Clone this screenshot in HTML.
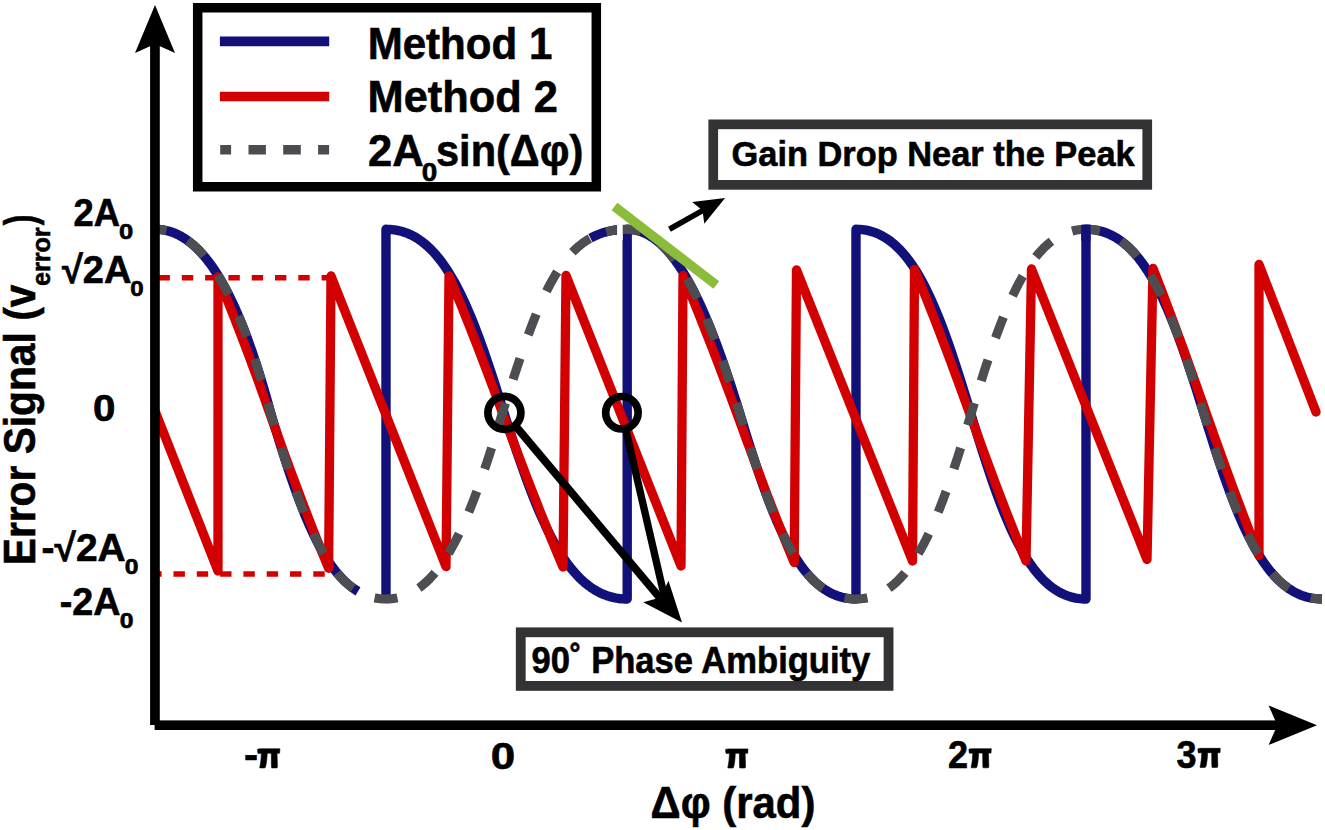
<!DOCTYPE html>
<html><head><meta charset="utf-8"><style>html,body{margin:0;padding:0;background:#fff;overflow:hidden}svg{display:block}</style></head>
<body><svg width="1325" height="830" viewBox="0 0 1325 830">
<rect width="1325" height="830" fill="#fff"/>
<g fill="none" stroke-linejoin="round">
<path d="M155.00,229.30L157.03,229.34L159.06,229.46L161.09,229.66L163.12,229.95L165.15,230.31L167.18,230.77L169.21,231.31L171.24,231.94L173.27,232.67L175.30,233.48L177.33,234.39L179.36,235.40L181.39,236.50L183.42,237.71L185.45,239.01L187.48,240.42L189.51,241.94L191.54,243.56L193.57,245.29L195.60,247.13L197.63,249.09L199.66,251.16L201.69,253.34L203.72,255.65L205.75,258.08L207.78,260.63L209.81,263.31L211.84,266.12L213.87,269.05L215.90,272.12L217.93,275.33L219.96,278.67L221.99,282.15L224.02,285.78L226.05,289.54L228.08,293.46L230.11,297.52L232.14,301.73L234.17,306.10L236.20,310.62L238.23,315.30L240.26,320.14L242.29,325.14L244.32,330.30L246.35,335.63L248.38,341.13L250.41,346.79L252.44,352.63L254.47,358.64L256.50,364.82L258.53,371.18L260.56,377.72L262.59,384.43L264.62,391.32L266.65,398.39L268.68,405.64L270.71,413.07L272.74,419.91L274.77,426.59L276.80,433.22L278.83,439.79L280.86,446.29L282.89,452.71L284.92,459.04L286.95,465.27L288.98,471.40L291.01,477.41L293.04,483.29L295.07,489.04L297.10,494.65L299.13,500.12L301.16,505.44L303.19,510.60L305.22,515.61L307.25,520.45L309.28,525.13L311.31,529.65L313.34,534.00L315.37,538.19L317.40,542.21L319.43,546.06L321.46,549.76L323.49,553.29L325.52,556.66L327.55,559.88L329.58,562.94L331.61,565.85L333.64,568.61L335.67,571.22L337.70,573.70L339.73,576.03L341.76,578.23L343.79,580.30L345.82,582.24L347.85,584.05L349.88,585.75L351.91,587.32L353.94,588.78L355.97,590.13L358.00,591.37M386.00,595.00L386.00,229.30L386.00,229.30L388.03,229.33L390.05,229.43L392.08,229.60L394.11,229.84L396.14,230.16L398.16,230.55L400.19,231.02L402.22,231.57L404.24,232.20L406.27,232.91L408.30,233.71L410.32,234.61L412.35,235.59L414.38,236.67L416.40,237.85L418.43,239.13L420.46,240.52L422.48,242.01L424.51,243.61L426.54,245.33L428.57,247.16L430.59,249.11L432.62,251.18L434.65,253.38L436.67,255.70L438.70,258.16L440.73,260.76L442.75,263.49L444.78,266.36L446.81,269.38L448.83,272.54L450.86,275.85L452.89,279.31L454.92,282.92L456.94,286.68L458.97,290.61L461.00,294.68L463.02,298.91L465.05,303.30L467.08,307.84L469.10,312.54L471.13,317.39L473.16,322.38L475.18,327.52L477.21,332.81L479.24,338.23L481.26,343.78L483.29,349.45L485.32,355.25L487.35,361.16L489.37,367.17L491.40,373.28L493.43,379.47L495.45,385.75L497.48,392.09L499.51,398.49L501.53,404.95L503.56,411.45L505.59,417.83L507.61,424.09L509.64,430.31L511.67,436.48L513.69,442.60L515.72,448.65L517.75,454.62L519.78,460.52L521.80,466.33L523.83,472.04L525.86,477.65L527.88,483.15L529.91,488.53L531.94,493.80L533.96,498.94L535.99,503.94L538.02,508.82L540.04,513.56L542.07,518.15L544.10,522.61L546.12,526.92L548.15,531.09L550.18,535.11L552.21,538.99L554.23,542.72L556.26,546.32L558.29,549.76L560.31,553.07L562.34,556.24L564.37,559.27L566.39,562.16L568.42,564.92L570.45,567.55L572.47,570.06L574.50,572.43L576.53,574.69L578.55,576.82L580.58,578.84L582.61,580.74L584.64,582.53L586.66,584.21L588.69,585.79L590.72,587.26L592.74,588.64L594.77,589.91L596.80,591.09L598.82,592.18L600.85,593.18L602.88,594.09L604.90,594.91L606.93,595.66L608.96,596.32L610.98,596.90L613.01,597.41L615.04,597.84L617.07,598.20L619.09,598.49L621.12,598.72L623.15,598.88L625.17,598.97L627.20,599.00L627.20,229.30L627.20,229.30L629.23,229.35L631.25,229.50L633.28,229.75L635.30,230.11L637.32,230.57L639.35,231.14L641.37,231.81L643.40,232.60L645.42,233.49L647.45,234.50L649.47,235.63L651.50,236.87L653.52,238.22L655.55,239.70L657.57,241.29L659.60,243.01L661.62,244.84L663.65,246.81L665.67,248.89L667.70,251.11L669.72,253.45L671.75,255.91L673.77,258.51L675.80,261.24L677.82,264.10L679.85,267.09L681.87,270.21L683.89,273.46L685.92,276.85L687.94,280.37L689.97,284.03L691.99,287.82L694.02,291.74L696.04,295.79L698.07,299.98L700.09,304.30L702.12,308.75L704.14,313.33L706.17,318.04L708.19,322.87L710.22,327.84L712.24,332.93L714.27,338.14L716.29,343.48L718.32,348.93L720.34,354.50L722.37,360.19L724.39,365.99L726.41,371.90L728.44,377.91L730.46,384.03L732.49,390.25L734.51,396.57L736.54,402.98L738.56,409.48L740.59,416.08L742.61,422.71L744.64,429.30L746.66,435.83L748.69,442.30L750.71,448.70L752.74,455.02L754.76,461.25L756.79,467.37L758.81,473.39L760.84,479.29L762.86,485.07L764.89,490.72L766.91,496.23L768.93,501.59L770.96,506.81L772.98,511.87L775.01,516.79L777.03,521.54L779.06,526.13L781.08,530.56L783.11,534.83L785.13,538.94L787.16,542.89L789.18,546.67L791.21,550.30L793.23,553.77L795.26,557.08L797.28,560.24L799.31,563.25L801.33,566.11L803.36,568.83L805.38,571.41L807.41,573.84L809.43,576.15L811.46,578.31L813.48,580.36L815.50,582.27L817.53,584.06L819.55,585.74L821.58,587.30L823.60,588.74L825.63,590.08L827.65,591.31L829.68,592.44L831.70,593.47L833.73,594.40L835.75,595.24L837.78,595.98L839.80,596.64L841.83,597.21L843.85,597.70L845.88,598.11L847.90,598.43L849.93,598.68L851.95,598.86L853.98,598.97L856.00,599.00L856.00,229.30L856.00,229.30L858.04,229.34L860.07,229.44L862.11,229.62L864.14,229.88L866.18,230.22L868.21,230.64L870.25,231.14L872.28,231.73L874.32,232.41L876.35,233.17L878.39,234.04L880.43,235.00L882.46,236.06L884.50,237.22L886.53,238.49L888.57,239.87L890.60,241.36L892.64,242.97L894.67,244.70L896.71,246.55L898.74,248.53L900.78,250.64L902.81,252.88L904.85,255.26L906.89,257.78L908.92,260.44L910.96,263.25L912.99,266.21L915.03,269.32L917.06,272.59L919.10,276.02L921.13,279.61L923.17,283.36L925.20,287.27L927.24,291.35L929.28,295.60L931.31,300.01L933.35,304.59L935.38,309.34L937.42,314.24L939.45,319.31L941.49,324.54L943.52,329.92L945.56,335.45L947.59,341.12L949.63,346.93L951.66,352.88L953.70,358.94L955.74,365.12L957.77,371.40L959.81,377.78L961.84,384.25L963.88,390.79L965.91,397.40L967.95,404.07L969.98,410.78L972.02,417.52L974.05,424.24L976.09,430.90L978.12,437.51L980.16,444.06L982.20,450.52L984.23,456.90L986.27,463.19L988.30,469.36L990.34,475.43L992.37,481.37L994.41,487.18L996.44,492.85L998.48,498.38L1000.51,503.76L1002.55,508.99L1004.58,514.06L1006.62,518.97L1008.66,523.71L1010.69,528.29L1012.73,532.70L1014.76,536.95L1016.80,541.03L1018.83,544.95L1020.87,548.70L1022.90,552.28L1024.94,555.71L1026.97,558.98L1029.01,562.09L1031.04,565.05L1033.08,567.86L1035.12,570.52L1037.15,573.04L1039.19,575.42L1041.22,577.66L1043.26,579.77L1045.29,581.75L1047.33,583.60L1049.36,585.33L1051.40,586.94L1053.43,588.43L1055.47,589.81L1057.50,591.08L1059.54,592.24L1061.58,593.30L1063.61,594.26L1065.65,595.13L1067.68,595.89L1069.72,596.57L1071.75,597.16L1073.79,597.66L1075.82,598.08L1077.86,598.42L1079.89,598.68L1081.93,598.86L1083.96,598.96L1086.00,599.00L1086.00,229.30L1086.00,229.30L1088.04,229.33L1090.07,229.44L1092.10,229.61L1094.14,229.85L1096.17,230.17L1098.21,230.57L1100.24,231.04L1102.28,231.60L1104.31,232.24L1106.35,232.97L1108.38,233.78L1110.41,234.69L1112.45,235.69L1114.48,236.79L1116.52,237.99L1118.55,239.29L1120.59,240.69L1122.62,242.21L1124.66,243.84L1126.69,245.58L1128.72,247.44L1130.76,249.42L1132.79,251.53L1134.83,253.77L1136.86,256.13L1138.90,258.63L1140.93,261.27L1142.97,264.05L1145.00,266.97L1147.04,270.04L1149.07,273.26L1151.10,276.62L1153.14,280.14L1155.17,283.82L1157.21,287.65L1159.24,291.64L1161.28,295.79L1163.31,300.09L1165.35,304.55L1167.38,309.17L1169.41,313.94L1171.45,318.87L1173.48,323.95L1175.52,329.17L1177.55,334.54L1179.59,340.04L1181.62,345.67L1183.66,351.43L1185.69,357.31L1187.72,363.29L1189.76,369.39L1191.79,375.57L1193.83,381.84L1195.86,388.19L1197.90,394.60L1199.93,401.07L1201.97,407.59L1204.00,414.15L1206.03,420.71L1208.07,427.23L1210.10,433.70L1212.14,440.12L1214.17,446.46L1216.21,452.73L1218.24,458.92L1220.28,465.01L1222.31,471.00L1224.35,476.87L1226.38,482.63L1228.41,488.27L1230.45,493.77L1232.48,499.13L1234.52,504.36L1236.55,509.43L1238.59,514.36L1240.62,519.13L1242.66,523.75L1244.69,528.21L1246.72,532.52L1248.76,536.66L1250.79,540.65L1252.83,544.48L1254.86,548.16L1256.90,551.68L1258.93,555.04L1260.97,558.26L1263.00,561.33L1265.03,564.25L1267.07,567.03L1269.10,569.67L1271.14,572.17L1273.17,574.53L1275.21,576.77L1277.24,578.88L1279.28,580.86L1281.31,582.72L1283.34,584.46L1285.38,586.09L1287.41,587.61L1289.45,589.01L1291.48,590.31L1293.52,591.51L1295.55,592.61L1297.59,593.61L1299.62,594.52L1301.66,595.33L1303.69,596.06L1305.72,596.70L1307.76,597.26L1309.79,597.73L1311.83,598.13L1313.86,598.45L1315.90,598.69L1317.93,598.86L1319.97,598.97L1322.00,599.00" stroke="#12117a" stroke-width="9.4"/>
<path d="M158.5,277.8H333" stroke="#d20000" stroke-width="5.6" stroke-dasharray="11.4 11.9"/>
<path d="M158.5,574H325" stroke="#d20000" stroke-width="5.6" stroke-dasharray="11.4 11.9" stroke-dashoffset="-15"/>
<path d="M155.00,411.00L218.00,571.00L218.00,277.00L220.26,282.52L222.51,288.08L224.77,293.67L227.03,299.30L229.29,304.97L231.54,310.67L233.80,316.41L236.06,322.19L238.31,328.01L240.57,333.86L242.83,339.76L245.09,345.70L247.34,351.68L249.60,357.70L251.86,363.76L254.11,369.86L256.37,376.01L258.63,382.20L260.89,388.44L263.14,394.72L265.40,401.04L267.66,407.41L269.91,413.82L272.17,420.18L274.43,426.44L276.69,432.69L278.94,438.93L281.20,445.15L283.46,451.35L285.71,457.53L287.97,463.69L290.23,469.81L292.49,475.91L294.74,481.97L297.00,488.00L299.26,493.99L301.51,499.95L303.77,505.86L306.03,511.74L308.29,517.58L310.54,523.38L312.80,529.13L315.06,534.85L317.31,540.53L319.57,546.16L321.83,551.75L324.09,557.31L326.34,562.82L328.60,568.30L331.00,276.00L446.00,566.60L449.00,276.00L451.33,281.54L453.65,287.13L455.98,292.75L458.31,298.41L460.63,304.12L462.96,309.86L465.29,315.65L467.61,321.48L469.94,327.34L472.27,333.25L474.59,339.20L476.92,345.18L479.24,351.20L481.57,357.25L483.90,363.34L486.22,369.46L488.55,375.61L490.88,381.78L493.20,387.98L495.53,394.19L497.86,400.43L500.18,406.68L502.51,412.94L504.84,419.21L507.16,425.43L509.49,431.63L511.82,437.83L514.14,444.01L516.47,450.17L518.80,456.31L521.12,462.43L523.45,468.52L525.78,474.59L528.10,480.63L530.43,486.64L532.76,492.62L535.08,498.56L537.41,504.47L539.73,510.34L542.06,516.18L544.39,521.98L546.71,527.74L549.04,533.46L551.37,539.14L553.69,544.79L556.02,550.40L558.35,555.97L560.67,561.50L563.00,567.00L566.00,275.50L681.00,566.00L683.00,275.50L685.27,280.95L687.54,286.43L689.81,291.95L692.08,297.50L694.35,303.08L696.62,308.69L698.89,314.34L701.16,320.03L703.42,325.74L705.69,331.49L707.96,337.27L710.23,343.08L712.50,348.92L714.77,354.80L717.04,360.70L719.31,366.64L721.58,372.60L723.85,378.59L726.12,384.61L728.39,390.66L730.66,396.73L732.93,402.83L735.20,408.96L737.47,415.10L739.73,421.27L742.00,427.46L744.27,433.64L746.54,439.80L748.81,445.95L751.08,452.09L753.35,458.20L755.62,464.29L757.89,470.35L760.16,476.38L762.43,482.39L764.70,488.36L766.97,494.29L769.24,500.20L771.51,506.06L773.78,511.88L776.04,517.67L778.31,523.41L780.58,529.12L782.85,534.78L785.12,540.41L787.39,545.99L789.66,551.53L791.93,557.04L794.20,562.50L796.50,270.00L912.50,561.00L914.50,269.50L916.78,274.99L919.05,280.53L921.33,286.10L923.60,291.71L925.88,297.37L928.15,303.07L930.43,308.80L932.70,314.58L934.98,320.40L937.26,326.27L939.53,332.17L941.81,338.11L944.08,344.09L946.36,350.11L948.63,356.16L950.91,362.24L953.18,368.36L955.46,374.51L957.73,380.68L960.01,386.88L962.29,393.10L964.56,399.33L966.84,405.59L969.11,411.85L971.39,418.13L973.66,424.40L975.94,430.66L978.21,436.91L980.49,443.14L982.77,449.35L985.04,455.54L987.32,461.71L989.59,467.84L991.87,473.95L994.14,480.02L996.42,486.06L998.69,492.07L1000.97,498.04L1003.24,503.96L1005.52,509.85L1007.80,515.70L1010.07,521.51L1012.35,527.27L1014.62,533.00L1016.90,538.68L1019.17,544.32L1021.45,549.92L1023.72,555.48L1026.00,561.00L1031.50,269.00L1147.00,559.50L1153.00,268.50L1155.16,274.01L1157.33,279.56L1159.49,285.15L1161.65,290.77L1163.82,296.42L1165.98,302.12L1168.14,307.84L1170.31,313.61L1172.47,319.40L1174.63,325.23L1176.80,331.09L1178.96,336.99L1181.12,342.91L1183.29,348.87L1185.45,354.85L1187.61,360.85L1189.78,366.88L1191.94,372.93L1194.10,379.00L1196.27,385.08L1198.43,391.18L1200.59,397.30L1202.76,403.42L1204.92,409.55L1207.08,415.68L1209.24,421.79L1211.41,427.89L1213.57,433.98L1215.73,440.05L1217.90,446.11L1220.06,452.14L1222.22,458.15L1224.39,464.13L1226.55,470.09L1228.71,476.01L1230.88,481.91L1233.04,487.78L1235.20,493.62L1237.37,499.42L1239.53,505.18L1241.69,510.92L1243.86,516.61L1246.02,522.28L1248.18,527.90L1250.35,533.49L1252.51,539.05L1254.67,544.57L1256.84,550.05L1259.00,555.50L1259.00,264.50L1316.00,412.00" stroke="#d20000" stroke-width="9.3" stroke-linecap="round"/>
<g stroke="#4d4e52" stroke-width="9.1" fill="none"><path d="M155.00,229.30L155.97,229.31L156.95,229.34L157.92,229.38L158.90,229.45L159.87,229.53L160.85,229.63L161.82,229.75L162.80,229.89L163.77,230.05L164.75,230.23L165.72,230.43L166.70,230.65L167.67,230.89L168.65,231.15L169.62,231.43L170.60,231.73L171.57,232.06L172.55,232.40L173.52,232.76L174.50,233.15L175.47,233.56L176.45,233.99L177.42,234.44L178.39,234.91L179.37,235.41L180.34,235.92L181.32,236.46L182.29,237.03L183.27,237.62L184.24,238.23L185.22,238.86L186.19,239.52L187.17,240.20L188.14,240.91L189.12,241.64L190.09,242.39L191.07,243.17L192.04,243.98L193.02,244.81L193.99,245.66L194.97,246.54L195.94,247.45L196.92,248.39L197.89,249.35L198.87,250.33L199.84,251.35L200.82,252.39L201.79,253.45L202.76,254.55L203.74,255.67L204.71,256.83L205.69,258.00L206.66,259.21L207.64,260.45L208.61,261.72L209.59,263.01L210.56,264.34L211.54,265.69L212.51,267.08L213.49,268.49L214.46,269.94L215.44,271.41L216.41,272.92L217.39,274.46L218.36,276.03L219.34,277.63L220.31,279.26L221.29,280.93L222.26,282.63L223.24,284.36L224.21,286.12L225.18,287.92L226.16,289.75L227.13,291.61L228.11,293.51L229.08,295.45L230.06,297.41L231.03,299.42L232.01,301.45L232.98,303.53L233.96,305.63L234.93,307.78L235.91,309.96L236.88,312.17L237.86,314.43L238.83,316.72L239.81,319.04L240.78,321.40L241.76,323.81L242.73,326.24L243.71,328.72L244.68,331.23L245.66,333.79L246.63,336.38L247.61,339.01L248.58,341.68L249.55,344.38L250.53,347.13L251.50,349.92L252.48,352.74L253.45,355.61L254.43,358.51L255.40,361.46L256.38,364.45L257.35,367.47L258.33,370.54L259.30,373.65L260.28,376.79L261.25,379.98L262.23,383.22L263.20,386.49L264.18,389.80L265.15,393.15L266.13,396.55L267.10,399.99L268.08,403.47L269.05,406.99L270.03,410.55L271.00,414.15L272.50,419.11" stroke-dasharray="11.50 23.76 22.20 23.76 22.20 23.76 22.20 23.76 22.20 23.76 13.50 200.00"/><path d="M271.00,414.15L271.97,417.35L272.93,420.54L273.90,423.73L274.87,426.90L275.83,430.06L276.80,433.21L277.76,436.35L278.73,439.47L279.70,442.58L280.66,445.66L281.63,448.74L282.60,451.79L283.56,454.82L284.53,457.83L285.50,460.82L286.46,463.79L287.43,466.73L288.39,469.65L289.36,472.54L290.33,475.40L291.29,478.24L292.26,481.05L293.23,483.83L294.19,486.57L295.16,489.29L296.13,491.98L297.09,494.63L298.06,497.25L299.03,499.84L299.99,502.40L300.96,504.92L301.92,507.40L302.89,509.85L303.86,512.26L304.82,514.64L305.79,516.98L306.76,519.29L307.72,521.56L308.69,523.79L309.66,525.98L310.62,528.14L311.59,530.26L312.55,532.34L313.52,534.38L314.49,536.39L315.45,538.36L316.42,540.29L317.39,542.18L318.35,544.04L319.32,545.86L320.29,547.64L321.25,549.39L322.22,551.10L323.18,552.77L324.15,554.40L325.12,556.01L326.08,557.57L327.05,559.10L328.02,560.59L328.98,562.05L329.95,563.48L330.92,564.87L331.88,566.23L332.85,567.55L333.82,568.84L334.78,570.10L335.75,571.32L336.71,572.51L337.68,573.67L338.65,574.80L339.61,575.90L340.58,576.97L341.55,578.01L342.51,579.01L343.48,579.99L344.45,580.94L345.41,581.86L346.38,582.75L347.34,583.61L348.31,584.45L349.28,585.26L350.24,586.04L351.21,586.79L352.18,587.52L353.14,588.22L354.11,588.90L355.08,589.55L356.04,590.18L357.01,590.78L357.97,591.36L358.94,591.91L359.91,592.44L360.87,592.95L361.84,593.43L362.81,593.90L363.77,594.34L364.74,594.75L365.71,595.15L366.67,595.53L367.64,595.88L368.61,596.21L369.57,596.53L370.54,596.82L371.50,597.09L372.47,597.35L373.44,597.58L374.40,597.80L375.37,597.99L376.34,598.17L377.30,598.33L378.27,598.48L379.24,598.60L380.20,598.71L381.17,598.80L382.13,598.87L383.10,598.93L384.07,598.97L385.03,598.99L386.00,599.00L387.50,598.98" stroke-dasharray="11.50 23.71 22.20 23.71 22.20 23.71 22.20 23.71 22.20 23.71 13.50 200.00"/><path d="M386.00,599.00L386.97,598.99L387.95,598.97L388.92,598.92L389.90,598.86L390.87,598.79L391.85,598.69L392.82,598.58L393.80,598.45L394.77,598.30L395.75,598.13L396.72,597.95L397.70,597.74L398.67,597.52L399.65,597.27L400.62,597.01L401.60,596.72L402.57,596.42L403.55,596.09L404.52,595.74L405.50,595.38L406.47,594.99L407.45,594.58L408.42,594.14L409.39,593.69L410.37,593.21L411.34,592.71L412.32,592.18L413.29,591.64L414.27,591.06L415.24,590.47L416.22,589.85L417.19,589.20L418.17,588.53L419.14,587.84L420.12,587.12L421.09,586.37L422.07,585.60L423.04,584.80L424.02,583.97L424.99,583.12L425.97,582.24L426.94,581.33L427.92,580.39L428.89,579.42L429.87,578.43L430.84,577.41L431.82,576.35L432.79,575.27L433.76,574.16L434.74,573.01L435.71,571.84L436.69,570.63L437.66,569.40L438.64,568.13L439.61,566.83L440.59,565.49L441.56,564.13L442.54,562.73L443.51,561.30L444.49,559.83L445.46,558.34L446.44,556.80L447.41,555.24L448.39,553.64L449.36,552.00L450.34,550.33L451.31,548.62L452.29,546.88L453.26,545.11L454.24,543.30L455.21,541.45L456.18,539.57L457.16,537.65L458.13,535.69L459.11,533.70L460.08,531.68L461.06,529.62L462.03,527.52L463.01,525.38L463.98,523.21L464.96,521.00L465.93,518.76L466.91,516.48L467.88,514.17L468.86,511.82L469.83,509.44L470.81,507.02L471.78,504.57L472.76,502.08L473.73,499.56L474.71,497.00L475.68,494.41L476.66,491.79L477.63,489.14L478.61,486.45L479.58,483.73L480.55,480.98L481.53,478.21L482.50,475.40L483.48,472.56L484.45,469.69L485.43,466.80L486.40,463.88L487.38,460.93L488.35,457.96L489.33,454.97L490.30,451.95L491.28,448.90L492.25,445.84L493.23,442.75L494.20,439.64L495.18,436.51L496.15,433.37L497.13,430.20L498.10,427.02L499.08,423.83L500.05,420.61L501.03,417.39L502.00,414.15L503.50,409.40" stroke-dasharray="11.50 23.77 22.20 23.77 22.20 23.77 22.20 23.77 22.20 23.77 13.50 200.00"/><path d="M502.00,414.15L503.05,410.82L504.10,407.50L505.16,404.17L506.21,400.86L507.26,397.55L508.31,394.25L509.36,390.96L510.42,387.67L511.47,384.40L512.52,381.15L513.57,377.90L514.63,374.68L515.68,371.47L516.73,368.28L517.78,365.10L518.83,361.95L519.89,358.83L520.94,355.72L521.99,352.65L523.04,349.60L524.09,346.58L525.15,343.59L526.20,340.63L527.25,337.70L528.30,334.81L529.35,331.95L530.41,329.13L531.46,326.35L532.51,323.61L533.56,320.90L534.62,318.24L535.67,315.62L536.72,313.04L537.77,310.51L538.82,308.02L539.88,305.57L540.93,303.17L541.98,300.82L543.03,298.51L544.08,296.25L545.14,294.04L546.19,291.87L547.24,289.75L548.29,287.67L549.34,285.65L550.40,283.67L551.45,281.73L552.50,279.84L553.55,278.00L554.61,276.21L555.66,274.46L556.71,272.75L557.76,271.09L558.81,269.47L559.87,267.90L560.92,266.37L561.97,264.88L563.02,263.44L564.07,262.03L565.13,260.66L566.18,259.34L567.23,258.05L568.28,256.80L569.33,255.59L570.39,254.42L571.44,253.28L572.49,252.18L573.54,251.11L574.59,250.08L575.65,249.08L576.70,248.12L577.75,247.18L578.80,246.28L579.86,245.41L580.91,244.57L581.96,243.75L583.01,242.97L584.06,242.22L585.12,241.49L586.17,240.79L587.22,240.11L588.27,239.47L589.32,238.84L590.38,238.25L591.43,237.67L592.48,237.12L593.53,236.59L594.58,236.09L595.64,235.61L596.69,235.15L597.74,234.71L598.79,234.29L599.85,233.89L600.90,233.51L601.95,233.15L603.00,232.81L604.05,232.48L605.11,232.18L606.16,231.89L607.21,231.62L608.26,231.37L609.31,231.13L610.37,230.91L611.42,230.70L612.47,230.51L613.52,230.34L614.57,230.18L615.63,230.03L616.68,229.90L617.73,229.78L618.78,229.68L619.84,229.59L620.89,229.51L621.94,229.44L622.99,229.39L624.04,229.35L625.10,229.32L626.15,229.31L627.20,229.30L628.70,229.33" stroke-dasharray="11.50 24.94 22.20 24.94 22.20 24.94 22.20 24.94 22.20 24.94 16.00 200.00"/><path d="M627.20,229.30L628.15,229.31L629.10,229.34L630.04,229.40L630.99,229.48L631.94,229.57L632.89,229.70L633.84,229.84L634.78,230.01L635.73,230.20L636.68,230.41L637.63,230.65L638.57,230.91L639.52,231.19L640.47,231.50L641.42,231.83L642.37,232.18L643.31,232.56L644.26,232.97L645.21,233.39L646.16,233.85L647.11,234.32L648.05,234.83L649.00,235.35L649.95,235.91L650.90,236.49L651.85,237.09L652.79,237.72L653.74,238.37L654.69,239.06L655.64,239.76L656.58,240.50L657.53,241.26L658.48,242.04L659.43,242.86L660.38,243.70L661.32,244.57L662.27,245.46L663.22,246.38L664.17,247.33L665.12,248.31L666.06,249.31L667.01,250.34L667.96,251.40L668.91,252.49L669.86,253.61L670.80,254.75L671.75,255.92L672.70,257.12L673.65,258.35L674.59,259.61L675.54,260.89L676.49,262.21L677.44,263.55L678.39,264.92L679.33,266.32L680.28,267.75L681.23,269.21L682.18,270.70L683.13,272.21L684.07,273.76L685.02,275.33L685.97,276.94L686.92,278.57L687.87,280.23L688.81,281.93L689.76,283.65L690.71,285.40L691.66,287.18L692.61,288.99L693.55,290.82L694.50,292.69L695.45,294.59L696.40,296.51L697.34,298.47L698.29,300.45L699.24,302.46L700.19,304.50L701.14,306.57L702.08,308.67L703.03,310.80L703.98,312.95L704.93,315.14L705.88,317.35L706.82,319.59L707.77,321.86L708.72,324.15L709.67,326.48L710.62,328.83L711.56,331.21L712.51,333.62L713.46,336.05L714.41,338.51L715.35,340.99L716.30,343.51L717.25,346.05L718.20,348.61L719.15,351.20L720.09,353.82L721.04,356.46L721.99,359.13L722.94,361.82L723.89,364.53L724.83,367.27L725.78,370.04L726.73,372.83L727.68,375.64L728.63,378.47L729.57,381.33L730.52,384.21L731.47,387.11L732.42,390.03L733.36,392.97L734.31,395.94L735.26,398.92L736.21,401.93L737.16,404.96L738.10,408.00L739.05,411.07L740.00,414.15L741.50,419.07" stroke-dasharray="14.00 22.52 22.20 22.52 22.20 22.52 22.20 22.52 22.20 22.52 13.50 200.00"/><path d="M740.00,414.15L740.97,417.35L741.95,420.54L742.92,423.73L743.90,426.90L744.87,430.06L745.85,433.21L746.82,436.35L747.80,439.47L748.77,442.58L749.75,445.66L750.72,448.74L751.70,451.79L752.67,454.82L753.65,457.83L754.62,460.82L755.60,463.79L756.57,466.73L757.55,469.65L758.52,472.54L759.50,475.40L760.47,478.24L761.45,481.05L762.42,483.83L763.39,486.57L764.37,489.29L765.34,491.98L766.32,494.63L767.29,497.25L768.27,499.84L769.24,502.40L770.22,504.92L771.19,507.40L772.17,509.85L773.14,512.26L774.12,514.64L775.09,516.98L776.07,519.29L777.04,521.56L778.02,523.79L778.99,525.98L779.97,528.14L780.94,530.26L781.92,532.34L782.89,534.38L783.87,536.39L784.84,538.36L785.82,540.29L786.79,542.18L787.76,544.04L788.74,545.86L789.71,547.64L790.69,549.39L791.66,551.10L792.64,552.77L793.61,554.40L794.59,556.01L795.56,557.57L796.54,559.10L797.51,560.59L798.49,562.05L799.46,563.48L800.44,564.87L801.41,566.23L802.39,567.55L803.36,568.84L804.34,570.10L805.31,571.32L806.29,572.51L807.26,573.67L808.24,574.80L809.21,575.90L810.18,576.97L811.16,578.01L812.13,579.01L813.11,579.99L814.08,580.94L815.06,581.86L816.03,582.75L817.01,583.61L817.98,584.45L818.96,585.26L819.93,586.04L820.91,586.79L821.88,587.52L822.86,588.22L823.83,588.90L824.81,589.55L825.78,590.18L826.76,590.78L827.73,591.36L828.71,591.91L829.68,592.44L830.66,592.95L831.63,593.43L832.61,593.90L833.58,594.34L834.55,594.75L835.53,595.15L836.50,595.53L837.48,595.88L838.45,596.21L839.43,596.53L840.40,596.82L841.38,597.09L842.35,597.35L843.33,597.58L844.30,597.80L845.28,597.99L846.25,598.17L847.23,598.33L848.20,598.48L849.18,598.60L850.15,598.71L851.13,598.80L852.10,598.87L853.08,598.93L854.05,598.97L855.03,598.99L856.00,599.00L857.50,598.98" stroke-dasharray="11.50 23.83 22.20 23.83 22.20 23.83 22.20 23.83 22.20 23.83 13.50 200.00"/><path d="M856.00,599.00L856.97,598.99L857.93,598.97L858.90,598.93L859.87,598.87L860.83,598.80L861.80,598.71L862.76,598.60L863.73,598.48L864.70,598.33L865.66,598.17L866.63,597.99L867.60,597.80L868.56,597.58L869.53,597.35L870.50,597.09L871.46,596.82L872.43,596.53L873.39,596.21L874.36,595.88L875.33,595.53L876.29,595.15L877.26,594.75L878.23,594.34L879.19,593.90L880.16,593.43L881.13,592.95L882.09,592.44L883.06,591.91L884.03,591.36L884.99,590.78L885.96,590.18L886.92,589.55L887.89,588.90L888.86,588.22L889.82,587.52L890.79,586.79L891.76,586.04L892.72,585.26L893.69,584.45L894.66,583.61L895.62,582.75L896.59,581.86L897.55,580.94L898.52,579.99L899.49,579.01L900.45,578.01L901.42,576.97L902.39,575.90L903.35,574.80L904.32,573.67L905.29,572.51L906.25,571.32L907.22,570.10L908.18,568.84L909.15,567.55L910.12,566.23L911.08,564.87L912.05,563.48L913.02,562.05L913.98,560.59L914.95,559.10L915.92,557.57L916.88,556.01L917.85,554.40L918.82,552.77L919.78,551.10L920.75,549.39L921.71,547.64L922.68,545.86L923.65,544.04L924.61,542.18L925.58,540.29L926.55,538.36L927.51,536.39L928.48,534.38L929.45,532.34L930.41,530.26L931.38,528.14L932.34,525.98L933.31,523.79L934.28,521.56L935.24,519.29L936.21,516.98L937.18,514.64L938.14,512.26L939.11,509.85L940.08,507.40L941.04,504.92L942.01,502.40L942.97,499.84L943.94,497.25L944.91,494.63L945.87,491.98L946.84,489.29L947.81,486.57L948.77,483.83L949.74,481.05L950.71,478.24L951.67,475.40L952.64,472.54L953.61,469.65L954.57,466.73L955.54,463.79L956.50,460.82L957.47,457.83L958.44,454.82L959.40,451.79L960.37,448.74L961.34,445.66L962.30,442.58L963.27,439.47L964.24,436.35L965.20,433.21L966.17,430.06L967.13,426.90L968.10,423.73L969.07,420.54L970.03,417.35L971.00,414.15L972.50,409.19" stroke-dasharray="11.50 23.71 22.20 23.71 22.20 23.71 22.20 23.71 22.20 23.71 13.50 200.00"/><path d="M971.00,414.15L971.97,410.95L972.93,407.76L973.90,404.57L974.87,401.40L975.83,398.24L976.80,395.09L977.76,391.95L978.73,388.83L979.70,385.72L980.66,382.64L981.63,379.56L982.60,376.51L983.56,373.48L984.53,370.47L985.50,367.48L986.46,364.51L987.43,361.57L988.39,358.65L989.36,355.76L990.33,352.90L991.29,350.06L992.26,347.25L993.23,344.47L994.19,341.73L995.16,339.01L996.13,336.32L997.09,333.67L998.06,331.05L999.03,328.46L999.99,325.90L1000.96,323.38L1001.92,320.90L1002.89,318.45L1003.86,316.04L1004.82,313.66L1005.79,311.32L1006.76,309.01L1007.72,306.74L1008.69,304.51L1009.66,302.32L1010.62,300.16L1011.59,298.04L1012.55,295.96L1013.52,293.92L1014.49,291.91L1015.45,289.94L1016.42,288.01L1017.39,286.12L1018.35,284.26L1019.32,282.44L1020.29,280.66L1021.25,278.91L1022.22,277.20L1023.18,275.53L1024.15,273.90L1025.12,272.29L1026.08,270.73L1027.05,269.20L1028.02,267.71L1028.98,266.25L1029.95,264.82L1030.92,263.43L1031.88,262.07L1032.85,260.75L1033.82,259.46L1034.78,258.20L1035.75,256.98L1036.71,255.79L1037.68,254.63L1038.65,253.50L1039.61,252.40L1040.58,251.33L1041.55,250.29L1042.51,249.29L1043.48,248.31L1044.45,247.36L1045.41,246.44L1046.38,245.55L1047.34,244.69L1048.31,243.85L1049.28,243.04L1050.24,242.26L1051.21,241.51L1052.18,240.78L1053.14,240.08L1054.11,239.40L1055.08,238.75L1056.04,238.12L1057.01,237.52L1057.97,236.94L1058.94,236.39L1059.91,235.86L1060.87,235.35L1061.84,234.87L1062.81,234.40L1063.77,233.96L1064.74,233.55L1065.71,233.15L1066.67,232.77L1067.64,232.42L1068.61,232.09L1069.57,231.77L1070.54,231.48L1071.50,231.21L1072.47,230.95L1073.44,230.72L1074.40,230.50L1075.37,230.31L1076.34,230.13L1077.30,229.97L1078.27,229.82L1079.24,229.70L1080.20,229.59L1081.17,229.50L1082.13,229.43L1083.10,229.37L1084.07,229.33L1085.03,229.31L1086.00,229.30L1087.50,229.32" stroke-dasharray="11.50 23.21 22.20 23.21 22.20 23.21 22.20 23.21 22.20 23.21 16.00 200.00"/><path d="M1086.00,229.30L1086.99,229.31L1087.98,229.33L1088.97,229.37L1089.97,229.43L1090.96,229.50L1091.95,229.59L1092.94,229.70L1093.93,229.82L1094.92,229.97L1095.92,230.13L1096.91,230.31L1097.90,230.50L1098.89,230.72L1099.88,230.95L1100.87,231.21L1101.87,231.48L1102.86,231.77L1103.85,232.09L1104.84,232.42L1105.83,232.77L1106.82,233.15L1107.82,233.55L1108.81,233.96L1109.80,234.40L1110.79,234.87L1111.78,235.35L1112.77,235.86L1113.76,236.39L1114.76,236.94L1115.75,237.52L1116.74,238.12L1117.73,238.75L1118.72,239.40L1119.71,240.08L1120.71,240.78L1121.70,241.51L1122.69,242.26L1123.68,243.04L1124.67,243.85L1125.66,244.69L1126.66,245.55L1127.65,246.44L1128.64,247.36L1129.63,248.31L1130.62,249.29L1131.61,250.29L1132.61,251.33L1133.60,252.40L1134.59,253.50L1135.58,254.63L1136.57,255.79L1137.56,256.98L1138.55,258.20L1139.55,259.46L1140.54,260.75L1141.53,262.07L1142.52,263.43L1143.51,264.82L1144.50,266.25L1145.50,267.71L1146.49,269.20L1147.48,270.73L1148.47,272.29L1149.46,273.90L1150.45,275.53L1151.45,277.20L1152.44,278.91L1153.43,280.66L1154.42,282.44L1155.41,284.26L1156.40,286.12L1157.39,288.01L1158.39,289.94L1159.38,291.91L1160.37,293.92L1161.36,295.96L1162.35,298.04L1163.34,300.16L1164.34,302.32L1165.33,304.51L1166.32,306.74L1167.31,309.01L1168.30,311.32L1169.29,313.66L1170.29,316.04L1171.28,318.45L1172.27,320.90L1173.26,323.38L1174.25,325.90L1175.24,328.46L1176.24,331.05L1177.23,333.67L1178.22,336.32L1179.21,339.01L1180.20,341.73L1181.19,344.47L1182.18,347.25L1183.18,350.06L1184.17,352.90L1185.16,355.76L1186.15,358.65L1187.14,361.57L1188.13,364.51L1189.13,367.48L1190.12,370.47L1191.11,373.48L1192.10,376.51L1193.09,379.56L1194.08,382.64L1195.08,385.72L1196.07,388.83L1197.06,391.95L1198.05,395.09L1199.04,398.24L1200.03,401.40L1201.03,404.57L1202.02,407.76L1203.01,410.95L1204.00,414.15L1205.50,418.99" stroke-dasharray="14.00 23.57 22.20 23.57 22.20 23.57 22.20 23.57 22.20 23.57 13.50 200.00"/><path d="M1204.00,414.15L1204.99,417.35L1205.98,420.54L1206.97,423.73L1207.97,426.90L1208.96,430.06L1209.95,433.21L1210.94,436.35L1211.93,439.47L1212.92,442.58L1213.92,445.66L1214.91,448.74L1215.90,451.79L1216.89,454.82L1217.88,457.83L1218.87,460.82L1219.87,463.79L1220.86,466.73L1221.85,469.65L1222.84,472.54L1223.83,475.40L1224.82,478.24L1225.82,481.05L1226.81,483.83L1227.80,486.57L1228.79,489.29L1229.78,491.98L1230.77,494.63L1231.76,497.25L1232.76,499.84L1233.75,502.40L1234.74,504.92L1235.73,507.40L1236.72,509.85L1237.71,512.26L1238.71,514.64L1239.70,516.98L1240.69,519.29L1241.68,521.56L1242.67,523.79L1243.66,525.98L1244.66,528.14L1245.65,530.26L1246.64,532.34L1247.63,534.38L1248.62,536.39L1249.61,538.36L1250.61,540.29L1251.60,542.18L1252.59,544.04L1253.58,545.86L1254.57,547.64L1255.56,549.39L1256.55,551.10L1257.55,552.77L1258.54,554.40L1259.53,556.01L1260.52,557.57L1261.51,559.10L1262.50,560.59L1263.50,562.05L1264.49,563.48L1265.48,564.87L1266.47,566.23L1267.46,567.55L1268.45,568.84L1269.45,570.10L1270.44,571.32L1271.43,572.51L1272.42,573.67L1273.41,574.80L1274.40,575.90L1275.39,576.97L1276.39,578.01L1277.38,579.01L1278.37,579.99L1279.36,580.94L1280.35,581.86L1281.34,582.75L1282.34,583.61L1283.33,584.45L1284.32,585.26L1285.31,586.04L1286.30,586.79L1287.29,587.52L1288.29,588.22L1289.28,588.90L1290.27,589.55L1291.26,590.18L1292.25,590.78L1293.24,591.36L1294.24,591.91L1295.23,592.44L1296.22,592.95L1297.21,593.43L1298.20,593.90L1299.19,594.34L1300.18,594.75L1301.18,595.15L1302.17,595.53L1303.16,595.88L1304.15,596.21L1305.14,596.53L1306.13,596.82L1307.13,597.09L1308.12,597.35L1309.11,597.58L1310.10,597.80L1311.09,597.99L1312.08,598.17L1313.08,598.33L1314.07,598.48L1315.06,598.60L1316.05,598.71L1317.04,598.80L1318.03,598.87L1319.03,598.93L1320.02,598.97L1321.01,598.99L1322.00,599.00" stroke-dasharray="11.50 24.07 22.20 24.07 22.20 24.07 22.20 24.07 22.20 24.07 13.50 200.00"/></g>
<path d="M590.50,238.18L592.92,236.90L595.34,235.74L597.75,234.70L600.17,233.77L602.59,232.94L605.01,232.20L607.43,231.57L609.85,231.01L612.26,230.55L614.68,230.16L617.10,229.85" stroke="#12117a" stroke-width="9.2" fill="none"/>
<path d="M606.20,231.88L608.38,231.34L610.56,230.87L612.74,230.47L614.92,230.13L617.10,229.85" stroke="#4d4e52" stroke-width="9.1" fill="none"/>
<rect x="617.1" y="220" width="5.6" height="20" fill="#fff"/>
<rect x="1081.2" y="224.7" width="9.4" height="16" fill="#12117a"/>
<line x1="614.5" y1="206.5" x2="716.3" y2="285" stroke="#8cbd3a" stroke-width="9.5"/>
</g>
<!-- axes -->
<g fill="#000">
<rect x="150.1" y="40" width="9.7" height="685"/>
<rect x="154.6" y="720.4" width="1125" height="9.6"/>
<path d="M155,5 L175,53 L155,44 L135,53Z"/>
<path d="M1317,725.2 L1268.6,705.4 L1277.3,725.2 L1268.6,745Z"/>
</g>
<!-- circles & arrows -->
<g fill="none" stroke="#000">
<circle cx="504.4" cy="412.8" r="16.5" stroke-width="7.7"/>
<circle cx="621.9" cy="412.7" r="16.2" stroke-width="7.7"/>
<line x1="515" y1="425.4" x2="660" y2="598" stroke-width="7.9"/>
<line x1="625.5" y1="428.3" x2="664.5" y2="597" stroke-width="7.4"/>
<line x1="669.4" y1="229.2" x2="706" y2="208.6" stroke-width="5.6"/>
</g>
<g fill="#000">
<path d="M682,622.4 L643.2,602.2 L660.5,597.5 L668.5,580.7Z"/>
<path d="M725.1,198 L692.2,202 L702.5,210.6 L704.3,223.7Z"/>
</g>
<!-- legend box -->
<rect x="197.7" y="7.75" width="398.6" height="179" fill="none" stroke="#000" stroke-width="9.5"/>
<line x1="219.9" y1="41.3" x2="329.2" y2="41.3" stroke="#12117a" stroke-width="9.7"/>
<line x1="219.9" y1="96.5" x2="329.2" y2="96.5" stroke="#d20000" stroke-width="9.7"/>
<path d="M220.2,149.8H231.1M248.5,149.8H265.9M283.2,149.8H300.8M318.1,149.8H329.1" stroke="#4b4c50" stroke-width="9.6"/>
<rect x="713.25" y="124.35" width="434" height="60.5" fill="none" stroke="#333335" stroke-width="9.7"/>
<rect x="520.75" y="632.3" width="367.8" height="53.6" fill="none" stroke="#333335" stroke-width="9.8"/>
<g font-family="'Liberation Sans', sans-serif" font-weight="bold" fill="#000" stroke="#000" stroke-width="0.6">
<text x="367.66" y="58.8" font-size="44.5" textLength="184.66" lengthAdjust="spacingAndGlyphs">Method 1</text>
<text x="367.58" y="111.9" font-size="44.5" textLength="190.29" lengthAdjust="spacingAndGlyphs">Method 2</text>
<text x="368.02" y="165.7" font-size="44" textLength="55.72" lengthAdjust="spacingAndGlyphs">2A</text>
<text x="421.88" y="180.5" font-size="24.9" textLength="15.46" lengthAdjust="spacingAndGlyphs">0</text>
<text x="436.01" y="165.7" font-size="44" textLength="147.26" lengthAdjust="spacingAndGlyphs">sin(Δφ)</text>
<text x="731.56" y="166.1" font-size="35.5" textLength="403.11" lengthAdjust="spacingAndGlyphs">Gain Drop Near the Peak</text>
<text x="531.57" y="672.6" font-size="37" textLength="338.76" lengthAdjust="spacingAndGlyphs">90˚ Phase Ambiguity</text>
<text x="73.56" y="225.8" font-size="38.5" textLength="46.5" lengthAdjust="spacingAndGlyphs">2A</text>
<text x="119.01" y="238.8" font-size="21.5" textLength="14.24" lengthAdjust="spacingAndGlyphs">0</text>
<text x="61.90" y="283.4" font-size="38.5" textLength="69.54" lengthAdjust="spacingAndGlyphs">√2A</text>
<text x="130.38" y="296.4" font-size="21.5" textLength="13.4" lengthAdjust="spacingAndGlyphs">0</text>
<text x="93.01" y="421.0" font-size="36.8" textLength="22.4" lengthAdjust="spacingAndGlyphs">0</text>
<text x="41.58" y="561.2" font-size="38.5" textLength="84.11" lengthAdjust="spacingAndGlyphs">-√2A</text>
<text x="124.85" y="574.0" font-size="21.5" textLength="13.76" lengthAdjust="spacingAndGlyphs">0</text>
<text x="59.74" y="614.7" font-size="38.5" textLength="60.78" lengthAdjust="spacingAndGlyphs">-2A</text>
<text x="119.85" y="627.5" font-size="21.5" textLength="13.76" lengthAdjust="spacingAndGlyphs">0</text>
<text x="243.90" y="768" font-size="38.5" textLength="14.11" lengthAdjust="spacingAndGlyphs">-</text>
<text x="490.76" y="768.7" font-size="37.5" textLength="24.42" lengthAdjust="spacingAndGlyphs">0</text>
<text x="947.96" y="767.8" font-size="38.5" textLength="20.07" lengthAdjust="spacingAndGlyphs">2</text>
<text x="1176.56" y="767.7" font-size="38.5" textLength="20.07" lengthAdjust="spacingAndGlyphs">3</text>
<text x="650.59" y="818" font-size="43.9" textLength="164.8" lengthAdjust="spacingAndGlyphs">Δφ (rad)</text>
<g transform="translate(35.2,562.5) rotate(-90)"><text x="-2.76" y="0" font-size="44.2" textLength="280.61" lengthAdjust="spacingAndGlyphs">Error Signal (v</text><text x="276.44" y="14.7" font-size="26.1" textLength="58.69" lengthAdjust="spacingAndGlyphs">error</text><text x="337.30" y="0" font-size="44.2" textLength="10.64" lengthAdjust="spacingAndGlyphs">)</text></g>
<path transform="translate(257.5,748.8)" d="M0,0.6 Q0.5,0 3,0 L22.4,0 L22.1,4.4 L19.5,4.4 L19.9,17 Q20.1,19.1 19.2,19.1 L14.2,19.1 Q13.9,18 13.9,16 L13.8,4.4 L9.7,4.4 Q9.5,12 8.2,17.5 Q7.9,19.1 7,19.1 L2.2,19.1 Q3.7,12 3.9,4.4 L1,4.6 Q0.3,4.7 0.2,3.5 Z"/>
<path transform="translate(725.6,748.9)" d="M0,0.6 Q0.5,0 3,0 L22.4,0 L22.1,4.4 L19.5,4.4 L19.9,17 Q20.1,19.1 19.2,19.1 L14.2,19.1 Q13.9,18 13.9,16 L13.8,4.4 L9.7,4.4 Q9.5,12 8.2,17.5 Q7.9,19.1 7,19.1 L2.2,19.1 Q3.7,12 3.9,4.4 L1,4.6 Q0.3,4.7 0.2,3.5 Z"/>
<path transform="translate(968.9,748.7)" d="M0,0.6 Q0.5,0 3,0 L22.4,0 L22.1,4.4 L19.5,4.4 L19.9,17 Q20.1,19.1 19.2,19.1 L14.2,19.1 Q13.9,18 13.9,16 L13.8,4.4 L9.7,4.4 Q9.5,12 8.2,17.5 Q7.9,19.1 7,19.1 L2.2,19.1 Q3.7,12 3.9,4.4 L1,4.6 Q0.3,4.7 0.2,3.5 Z"/>
<path transform="translate(1197.9,748.3)" d="M0,0.6 Q0.5,0 3,0 L22.4,0 L22.1,4.4 L19.5,4.4 L19.9,17 Q20.1,19.1 19.2,19.1 L14.2,19.1 Q13.9,18 13.9,16 L13.8,4.4 L9.7,4.4 Q9.5,12 8.2,17.5 Q7.9,19.1 7,19.1 L2.2,19.1 Q3.7,12 3.9,4.4 L1,4.6 Q0.3,4.7 0.2,3.5 Z"/>
</g>
</svg></body></html>
